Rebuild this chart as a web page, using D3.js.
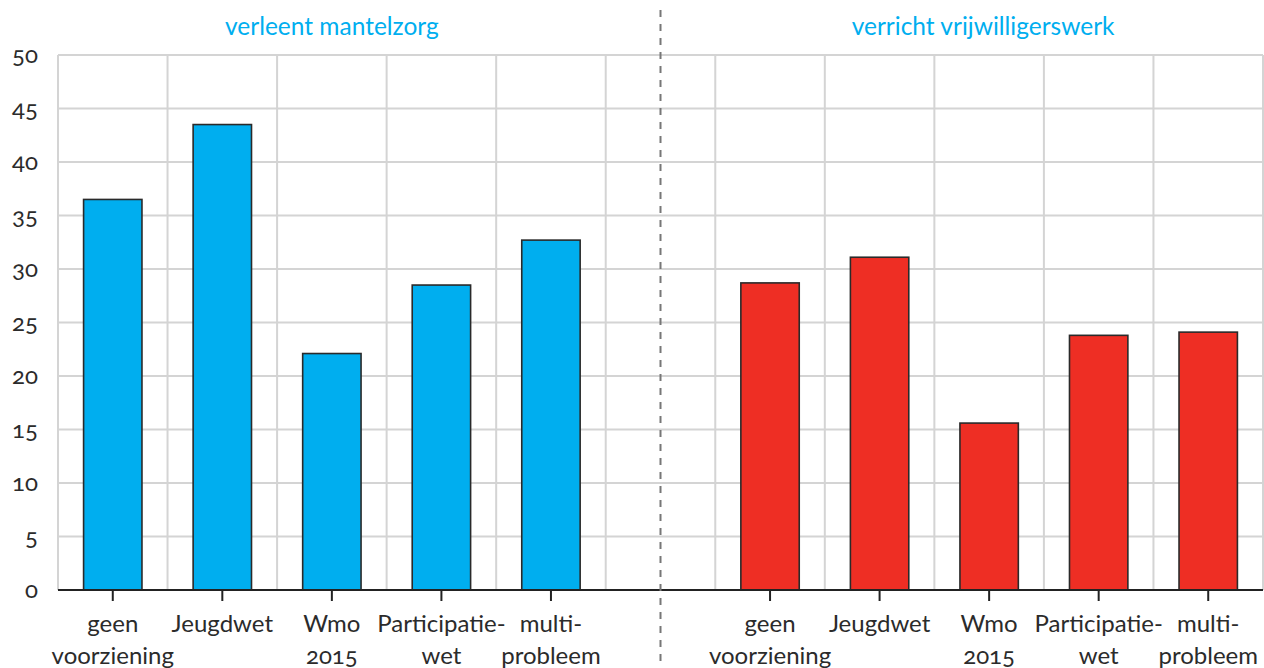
<!DOCTYPE html>
<html>
<head>
<meta charset="utf-8">
<script src="https://cdn.jsdelivr.net/npm/d3@7"></script>
<style>
  html, body { margin: 0; padding: 0; background: #fff; }
  svg { display: block; font-family: Lato, "Open Sans", sans-serif; }
  .num { font-variant-numeric: oldstyle-nums; font-feature-settings: "onum" 1; }
</style>
</head>
<body>
<svg id="chart" width="1264" height="668"></svg>
<script>
// ---- data ----
const categories = ["geen voorziening", "Jeugdwet", "Wmo 2015", "Participatiewet", "multiprobleem"];
const categoryLines = [["geen", "voorziening"], ["Jeugdwet"], ["Wmo", "2015"], ["Participatie-", "wet"], ["multi-", "probleem"]];
const panelTitles = ["verleent mantelzorg", "verricht vrijwilligerswerk"];
const mantelzorg = [36.5, 43.5, 22.1, 28.5, 32.7];
const vrijwilligerswerk = [28.7, 31.1, 15.6, 23.8, 24.1];
const yTicks = [0, 5, 10, 15, 20, 25, 30, 35, 40, 45, 50];

// ---- layout ----
const svg = d3.select("#chart");
const mLeft = 58, mRight = 1263, mTop = 55, mBottom = 590;
const blue = "#00aeef", red = "#ee2e24";
const textCol = "#2b2b2b", gridCol = "#d4d4d4";

const keys = categories.map((c, i) => "L" + i).concat(["gap"], categories.map((c, i) => "R" + i));
const pad = 0.467;
const x = d3.scaleBand().domain(keys).range([mLeft, mRight]).paddingInner(pad).paddingOuter(pad / 2);
const step = x.step();
const y = d3.scaleLinear().domain([0, 50]).range([mBottom, mTop]);

const bars = categories.map((c, i) => ({ key: "L" + i, value: mantelzorg[i], color: blue }))
  .concat(categories.map((c, i) => ({ key: "R" + i, value: vrijwilligerswerk[i], color: red })));

// gridlines horizontal
svg.append("g").selectAll("line").data(yTicks.filter(d => d > 0)).join("line")
  .attr("x1", mLeft).attr("x2", mRight)
  .attr("y1", d => y(d)).attr("y2", d => y(d))
  .attr("stroke", gridCol).attr("stroke-width", 2);

// gridlines vertical (band boundaries)
const boundaries = keys.map(k => x(k) + x.bandwidth() / 2 - step / 2).concat([mRight]);
svg.append("g").selectAll("line").data(boundaries).join("line")
  .attr("x1", d => d).attr("x2", d => d)
  .attr("y1", y(50)).attr("y2", y(0))
  .attr("stroke", gridCol).attr("stroke-width", 2);

// bars
svg.append("g").selectAll("rect").data(bars).join("rect")
  .attr("x", d => x(d.key)).attr("width", x.bandwidth())
  .attr("y", d => y(d.value)).attr("height", d => y(0) - y(d.value))
  .attr("fill", d => d.color)
  .attr("stroke", "#2a2a2a").attr("stroke-width", 1.6);

// y axis labels
const yAxis = d3.axisLeft(y).tickValues(yTicks).tickSize(0).tickPadding(20);
const yg = svg.append("g").attr("transform", `translate(${mLeft},0)`).call(yAxis);
yg.select(".domain").remove();
yg.selectAll("text").attr("class", "num").attr("fill", textCol)
  .style("font-size", "24px").style("font-family", "Lato, sans-serif");

// x axis baseline + ticks
const xAxis = d3.axisBottom(x).tickValues(keys.filter(k => k !== "gap")).tickSize(11).tickFormat("");
const xg = svg.append("g").attr("transform", `translate(0,${mBottom})`).call(xAxis);
xg.select(".domain").attr("d", `M${mLeft},0H${mRight}`).attr("stroke", "#222").attr("stroke-width", 2);
xg.selectAll(".tick line").attr("stroke", "#222").attr("stroke-width", 2);

// category labels
const labels = bars.map(b => ({ key: b.key, lines: categoryLines[+b.key.slice(1)] }));
const lg = svg.append("g");
labels.forEach(l => {
  const t = lg.append("text").attr("x", x(l.key) + x.bandwidth() / 2).attr("text-anchor", "middle")
    .attr("fill", textCol).attr("class", "num").style("font-size", "24px");
  l.lines.forEach((ln, i) => {
    t.append("tspan").attr("x", x(l.key) + x.bandwidth() / 2).attr("y", 632 + i * 32).text(ln);
  });
});

// panel titles
const panelCenters = [
  (x("L0") + x.bandwidth() / 2 + x("L4") + x.bandwidth() / 2) / 2,
  (x("R0") + x.bandwidth() / 2 + x("R4") + x.bandwidth() / 2) / 2 - 6
];
svg.append("g").selectAll("text").data(panelTitles).join("text")
  .attr("x", (d, i) => panelCenters[i]).attr("y", 35)
  .attr("text-anchor", "middle").attr("fill", blue)
  .style("font-size", "24.5px").text(d => d);

// divider
const gx = x("gap") + x.bandwidth() / 2;
svg.append("line").attr("x1", gx).attr("x2", gx).attr("y1", 10).attr("y2", 668)
  .attr("stroke", "#777").attr("stroke-width", 2).attr("stroke-dasharray", "7,7");
</script>
</body>
</html>
